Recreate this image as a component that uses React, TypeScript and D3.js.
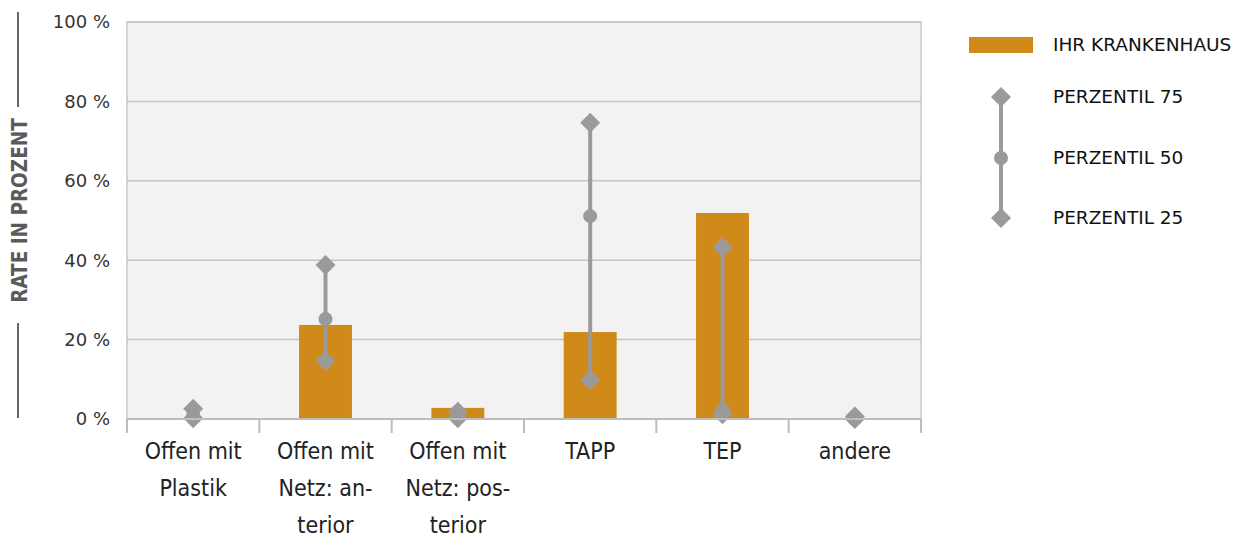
import * as d3 from 'd3'

const categories = [
  ['Offen mit', 'Plastik'],
  ['Offen mit', 'Netz: an-', 'terior'],
  ['Offen mit', 'Netz: pos-', 'terior'],
  ['TAPP'],
  ['TEP'],
  ['andere'],
]
const hospital = [0, 23.7, 2.8, 21.9, 51.9, 0]
const p75 = [2.6, 38.8, 1.8, 74.6, 43.3, 0.6]
const p50 = [1.0, 25.2, 0.6, 51.1, 2.2, 0]
const p25 = [0.2, 14.6, 0.2, 9.8, 1.2, 0]
const yTicks = [0, 20, 40, 60, 80, 100]
const legendLabels = ['IHR KRANKENHAUS', 'PERZENTIL 75', 'PERZENTIL 50', 'PERZENTIL 25']

const W = 1239
const H = 538
const plot = { left: 127, right: 921, top: 22, bottom: 419 }

const BAR = '#d08a19'
const GREY = '#9a9a9a'
const COND = '"DejaVu Sans Condensed", "DejaVu Sans", sans-serif'
const SANS = '"DejaVu Sans", sans-serif'

export default function App() {
  const idx = categories.map((_, i) => i)
  const x = d3.scaleBand<number>().domain(idx).range([plot.left, plot.right]).paddingInner(0).paddingOuter(0)
  const y = d3.scaleLinear().domain([0, 100]).range([plot.bottom, plot.top])
  const bw = x.bandwidth()
  const barW = bw * 0.4

  const diamond = d3.symbol().type(d3.symbolSquare).size(200)()
  const circle = d3.symbol().type(d3.symbolCircle).size(154)()

  const boundaries = idx.map((i) => x(i) as number).concat([plot.right])

  // legend rows
  const legY = [45, 97, 158, 218]

  return (
    <svg width={W} height={H} style={{ position: 'absolute', left: 0, top: 0 }}>
      <rect x={0} y={0} width={W} height={H} fill="#fff" />
      {/* plot background */}
      <rect x={plot.left} y={plot.top} width={plot.right - plot.left} height={plot.bottom - plot.top} fill="#f2f2f2" stroke="#c8c8c8" strokeWidth={1.5} />
      {/* gridlines */}
      {yTicks.slice(1).map((t) => (
        <line key={t} x1={plot.left} x2={plot.right} y1={y(t)} y2={y(t)} stroke="#c4c4c4" strokeWidth={1.5} />
      ))}
      {/* y tick labels */}
      {yTicks.map((t) => (
        <text key={t} x={110} y={y(t)} dy="0.35em" textAnchor="end" fontFamily={SANS} fontSize={18} fill="#333">
          {`${t} %`}
        </text>
      ))}
      {/* y axis title */}
      <line x1={18} x2={18} y1={12} y2={107} stroke="#666" strokeWidth={2} />
      <line x1={18} x2={18} y1={323} y2={418} stroke="#666" strokeWidth={2} />
      <text
        transform={`translate(27,${(plot.top + plot.bottom) / 2 - 10}) rotate(-90)`}
        textAnchor="middle"
        fontFamily={COND}
        fontStretch="condensed"
        fontWeight={700}
        fontSize={20.5}
        fill="#5a5a5a"
      >
        RATE IN PROZENT
      </text>
      {/* bars */}
      {hospital.map((v, i) => (
        <rect key={i} x={(x(i) as number) + (bw - barW) / 2} y={y(v)} width={barW} height={y(0) - y(v)} fill={BAR} />
      ))}
      {/* percentiles */}
      {idx.map((i) => {
        const cx = (x(i) as number) + bw / 2
        return (
          <g key={i}>
            <line x1={cx} x2={cx} y1={y(p25[i])} y2={y(p75[i])} stroke={GREY} strokeWidth={4} />
            <path d={diamond} transform={`translate(${cx},${y(p75[i])}) rotate(45)`} fill={GREY} />
            <path d={circle} transform={`translate(${cx},${y(p50[i])})`} fill={GREY} />
            <path d={diamond} transform={`translate(${cx},${y(p25[i])}) rotate(45)`} fill={GREY} />
          </g>
        )
      })}
      {/* bottom axis */}
      <line x1={plot.left} x2={plot.right} y1={plot.bottom} y2={plot.bottom} stroke="#bdbdbd" strokeWidth={2} />
      {boundaries.map((b, i) => (
        <line key={i} x1={b} x2={b} y1={plot.bottom} y2={plot.bottom + 14} stroke="#bdbdbd" strokeWidth={2} />
      ))}
      {categories.map((lines, i) => (
        <text key={i} textAnchor="middle" fontFamily={COND} fontStretch="condensed" fontSize={23} fill="#222">
          {lines.map((l, j) => (
            <tspan key={j} x={(x(i) as number) + bw / 2} y={459 + j * 37}>
              {l}
            </tspan>
          ))}
        </text>
      ))}
      {/* legend */}
      <rect x={969} y={37} width={64} height={16} fill={BAR} />
      <line x1={1001} x2={1001} y1={legY[1]} y2={legY[3]} stroke={GREY} strokeWidth={4} />
      <path d={diamond} transform={`translate(1001,${legY[1]}) rotate(45)`} fill={GREY} />
      <path d={circle} transform={`translate(1001,${legY[2]})`} fill={GREY} />
      <path d={diamond} transform={`translate(1001,${legY[3]}) rotate(45)`} fill={GREY} />
      {legendLabels.map((l, i) => (
        <text key={l} x={1053} y={legY[i]} dy="0.35em" fontFamily={SANS} fontSize={18.5} fill="#111">
          {l}
        </text>
      ))}
    </svg>
  )
}
